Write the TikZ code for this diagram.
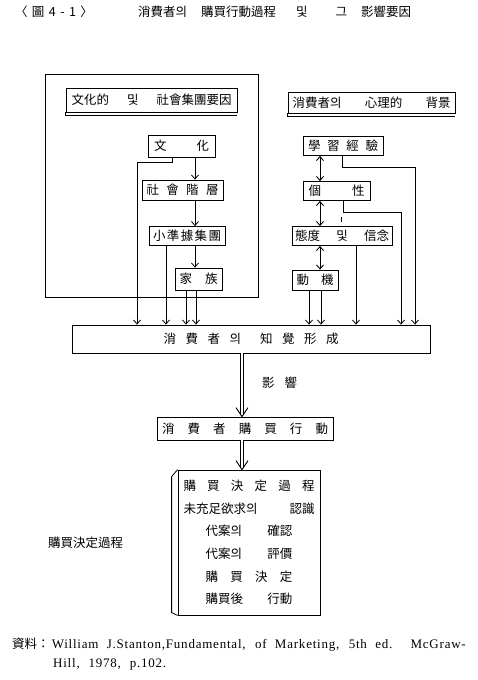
\documentclass[tikz,border=0pt]{standalone}
\usepackage{fontspec}
\setmainfont{Noto Sans CJK KR}
\newfontfamily\latinfont[LetterSpace=6]{Liberation Serif}
\usetikzlibrary{arrows.meta}
\tikzstyle{factor}=[draw,line width=0.8pt,inner sep=0pt,font=\fontsize{12.5}{14}\selectfont]
\tikzstyle{plain}=[inner sep=0pt,font=\fontsize{12.5}{14}\selectfont]
\tikzstyle{flow}=[line width=0.8pt,-{Straight Barb[length=4pt,width=7pt]}]
\tikzstyle{mutual}=[line width=0.9pt,{Straight Barb[length=4pt,width=7pt]}-{Straight Barb[length=4pt,width=7pt]}]
\tikzstyle{shaft}=[line width=0.7pt,double,double distance=2.6pt,shorten >=2pt]
\newcommand{\spread}[2]{\makebox[#1]{#2}}

\begin{document}
\begin{tikzpicture}[x=1pt,y=-1pt]
\useasboundingbox (0,0) rectangle (478,680);

% title
\node[plain] (fig) at (54,12) {\spread{78pt}{〈\hfill 圖\hfill 4\hfill -\hfill 1\hfill 〉}};
\node[plain,anchor=west] (title) at (138,12) {消費者의\hspace{14pt}購買行動過程\hspace{20pt}및\hspace{28pt}그\hspace{14pt}影響要因};

% social side
\draw[line width=0.8pt] (45,74) rectangle (258,297);
\node[factor,minimum width=171pt,minimum height=24pt] (hdrL) at (151.5,100) {\spread{160pt}{文化的\hfill 및\hfill 社會集團要因}};
\draw[line width=0.8pt] (hdrL.south west) -- ([yshift=-2.5pt]hdrL.south west) -- ([yshift=-2.5pt]hdrL.south east);
\node[factor,minimum width=67pt,minimum height=22pt] (culture) at (181.5,146) {\spread{55pt}{文\hfill 化}};
\node[factor,minimum width=81pt,minimum height=20pt] (class) at (182.5,190) {\spread{72pt}{社\hfill 會\hfill 階\hfill 層}};
\node[factor,minimum width=76pt,minimum height=19pt] (refgrp) at (187,236) {\spread{68pt}{小\hfill 準\hfill 據\hfill 集\hfill 團}};
\node[factor,minimum width=47pt,minimum height=22pt] (family) at (198.5,279) {\spread{38pt}{家\hfill 族}};

% psychological side
\node[factor,minimum width=167pt,minimum height=21pt] (hdrR) at (371.5,102.5) {\spread{158pt}{消費者의\hfill 心理的\hfill 背景}};
\draw[line width=0.8pt] (hdrR.south west) -- ([yshift=-2.5pt]hdrR.south west) -- ([yshift=-2.5pt]hdrR.south east);
\node[factor,minimum width=80pt,minimum height=19pt] (learn) at (343,146) {\spread{70pt}{學\hfill 習\hfill 經\hfill 驗}};
\node[factor,minimum width=67pt,minimum height=19pt] (person) at (336.5,191) {\spread{56pt}{個\hfill 性}};
\node[factor,minimum width=100pt,minimum height=19pt] (attit) at (342,236) {\spread{94pt}{態度\hfill 및\hfill 信念}};
\node[factor,minimum width=46pt,minimum height=20pt] (motive) at (315,280) {\spread{37pt}{動\hfill 機}};

% perception and behaviour
\node[factor,minimum width=358pt,minimum height=28pt] (percep) at (251,339) {\spread{175pt}{消\hfill 費\hfill 者\hfill 의\hfill\hfill 知\hfill 覺\hfill 形\hfill 成}};
\node[plain] (effect) at (279.5,383) {\spread{35pt}{影\hfill 響}};
\node[factor,minimum width=176pt,minimum height=23pt] (behav) at (245,428.5) {\spread{166pt}{消\hfill 費\hfill 者\hfill 購\hfill 買\hfill 行\hfill 動}};
\node[factor,minimum width=142pt,minimum height=145pt,align=center,font=\fontsize{12.5}{22.6}\selectfont] (process) at (249,542.5) {%
\spread{131pt}{購\hfill 買\hfill 決\hfill 定\hfill 過\hfill 程}\\
\spread{131pt}{未充足欲求의\hfill 認識}\\
\spread{87pt}{代案의\hfill 確認}\\
\spread{87pt}{代案의\hfill 評價}\\
\spread{87pt}{購\hfill 買\hfill 決\hfill 定}\\
\spread{87pt}{購買後\hfill 行動}};
\draw[line width=0.8pt] (process.north west) -- ++(-6,7) -- ++(0,136) -- (process.south west);
\node[plain,anchor=west] (decision) at (48,543) {購買決定過程};

% columns
\coordinate (colL) at (195,0);
\coordinate (colR) at (320,0);
\coordinate (mid) at (242,0);
\coordinate (la) at (137,0);
\coordinate (lb) at (166,0);
\coordinate (lc) at (186,0);
\coordinate (ld) at (196,0);
\coordinate (ra) at (309,0);
\coordinate (rb) at (321,0);
\coordinate (rc) at (356,0);
\coordinate (rd) at (401,0);
\coordinate (re) at (415,0);
\coordinate (cx) at (172,162);
\coordinate (lx) at (342,167);
\coordinate (px) at (343,212);

% connectors
\draw[flow] (culture.south -| colL) -- (class.north -| colL);
\draw[flow] (class.south -| colL) -- (refgrp.north -| colL);
\draw[flow] (refgrp.south -| colL) -- (family.north -| colL);
\draw[flow] (culture.south -| cx) -- (cx) -| (percep.north -| la);
\draw[flow] (refgrp.south -| lb) -- (percep.north -| lb);
\draw[flow] (family.south -| lc) -- (percep.north -| lc);
\draw[flow] (family.south -| ld) -- (percep.north -| ld);

\draw[mutual] (learn.south -| colR) -- (person.north -| colR);
\draw[mutual] (person.south -| colR) -- (attit.north -| colR);
\draw[mutual] (attit.south -| colR) -- (motive.north -| colR);
\draw[flow] (learn.south -| lx) -- (lx) -| (percep.north -| re);
\draw[flow] (person.south -| px) -- (px) -| (percep.north -| rd);
\draw[line width=0.6pt] (341,217) -- (341,222);
\draw[flow] (attit.south -| rc) -- (percep.north -| rc);
\draw[flow] (motive.south -| ra) -- (percep.north -| ra);
\draw[flow] (motive.south -| rb) -- (percep.north -| rb);

\draw[shaft] (percep.south -| mid) -- (behav.north -| mid);
\draw[line width=0.9pt] (behav.north -| mid) +(-6,-9) -- (behav.north -| mid) -- +(6,-9);
\draw[shaft] (behav.south -| mid) -- (process.north -| mid);
\draw[line width=0.9pt] (process.north -| mid) +(-6,-9) -- (process.north -| mid) -- +(6,-9);

% source
\node[plain,anchor=west] (src) at (12,645) {資料：\,{\latinfont\fontsize{13}{15}\selectfont\makebox[414pt][s]{William J.Stanton,Fundamental, of Marketing, 5th ed. McGraw-}}};
\node[plain,anchor=west] (src2) at (53,664) {\latinfont\fontsize{13}{15}\selectfont\makebox[113pt][s]{Hill, 1978, p.102.}};
\end{tikzpicture}
\end{document}
